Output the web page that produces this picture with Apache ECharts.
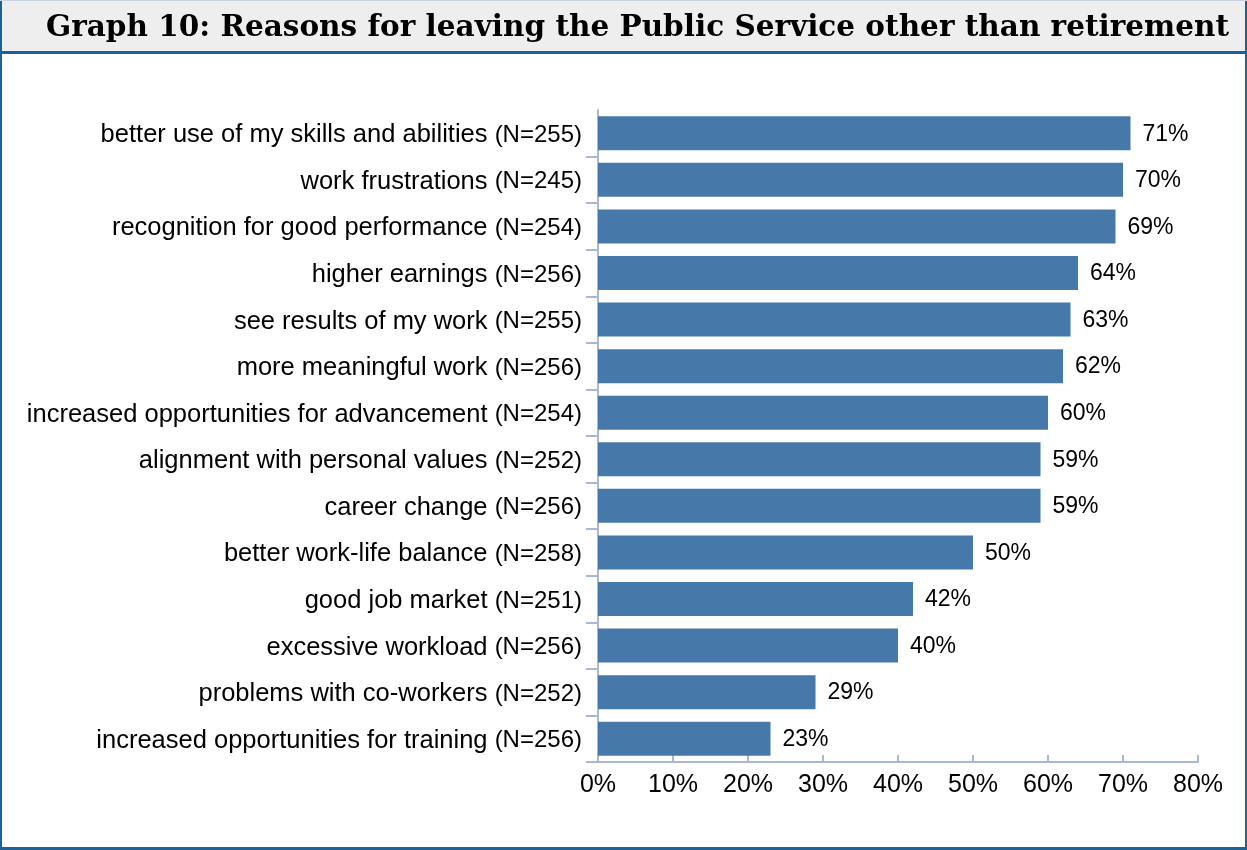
<!DOCTYPE html>
<html>
<head>
<meta charset="utf-8">
<script src="https://cdn.jsdelivr.net/npm/echarts@6/dist/echarts.min.js"></script>
<style>
  html, body { margin: 0; padding: 0; background: #fff; }
  #main { width: 1247px; height: 850px; }
</style>
</head>
<body>
<div id="main"></div>
<script>
// reasons, top to bottom
const reasons = [
  'better use of my skills and abilities',
  'work frustrations',
  'recognition for good performance',
  'higher earnings',
  'see results of my work',
  'more meaningful work',
  'increased opportunities for advancement',
  'alignment with personal values',
  'career change',
  'better work-life balance',
  'good job market',
  'excessive workload',
  'problems with co-workers',
  'increased opportunities for training'
];
const respondents = [255, 245, 254, 256, 255, 256, 254, 252, 256, 258, 251, 256, 252, 256];
const percents = [71, 70, 69, 64, 63, 62, 60, 59, 59, 50, 42, 40, 29, 23];
const xTicks = [0, 10, 20, 30, 40, 50, 60, 70, 80];

const chart = echarts.init(document.getElementById('main'));
const axisColor = '#a8b8d8';

const option = {
  backgroundColor: '#ffffff',
  animation: false,
  graphic: [
    // title bar
    { type: 'rect', shape: { x: 0, y: 0, width: 1247, height: 52 }, style: { fill: '#eeeeee' }, z: 0 },
    { type: 'rect', shape: { x: 0, y: 51, width: 1247, height: 3 }, style: { fill: '#1d6294' }, z: 1 },
    // outer frame
    { type: 'rect', shape: { x: 0, y: 0, width: 2, height: 850 }, style: { fill: '#1d6294' }, z: 1 },
    { type: 'rect', shape: { x: 1245, y: 0, width: 2, height: 850 }, style: { fill: '#1d6294' }, z: 1 },
    { type: 'rect', shape: { x: 0, y: 847, width: 1247, height: 3 }, style: { fill: '#1d6294' }, z: 1 },
    { type: 'rect', shape: { x: 0, y: 0, width: 1247, height: 1 }, style: { fill: '#c8d4e4' }, z: 1 }
  ],
  title: {
    text: 'Graph 10: Reasons for leaving the Public Service other than retirement',
    left: 41,
    top: 8,
    textStyle: {
      fontFamily: 'DejaVu Serif',
      fontWeight: 'bold',
      fontSize: 29.5,
      color: '#000'
    }
  },
  grid: { left: 598, right: 49, top: 110, bottom: 88, containLabel: false },
  xAxis: {
    type: 'value',
    min: 0,
    max: 80,
    interval: 10,
    axisLine: { show: true, lineStyle: { color: axisColor, width: 2 } },
    axisTick: { show: true, inside: true, length: 7, lineStyle: { color: axisColor, width: 2 } },
    splitLine: { show: false },
    axisLabel: {
      margin: 11,
      fontFamily: 'Liberation Sans',
      fontSize: 25,
      color: '#000',
      formatter: v => xTicks.includes(v) ? v + '%' : ''
    }
  },
  yAxis: {
    type: 'category',
    inverse: true,
    data: reasons.map((r, i) => r + '|' + respondents[i]),
    axisLine: { show: true, lineStyle: { color: axisColor, width: 2 } },
    axisTick: { show: true, length: 12, interval: i => i !== 0, lineStyle: { color: axisColor, width: 2 } },
    axisLabel: {
      margin: 16,
      formatter: v => {
        const parts = v.split('|');
        return '{a|' + parts[0] + ' }{b|(N=' + parts[1] + ')}';
      },
      rich: {
        a: { fontFamily: 'Liberation Sans', fontSize: 25.5, color: '#000', padding: [4, 0, 0, 0] },
        b: { fontFamily: 'Liberation Sans', fontSize: 24, color: '#000', padding: [4, 0, 0, 0] }
      }
    }
  },
  series: [{
    type: 'bar',
    data: percents,
    barCategoryGap: '27%',
    itemStyle: { color: '#4679aa' },
    label: {
      show: true,
      position: 'right',
      distance: 12,
      offset: [0, 1],
      fontFamily: 'Liberation Sans',
      fontSize: 23,
      color: '#000',
      formatter: p => p.value + '%'
    }
  }]
};

chart.setOption(option);
</script>
</body>
</html>
